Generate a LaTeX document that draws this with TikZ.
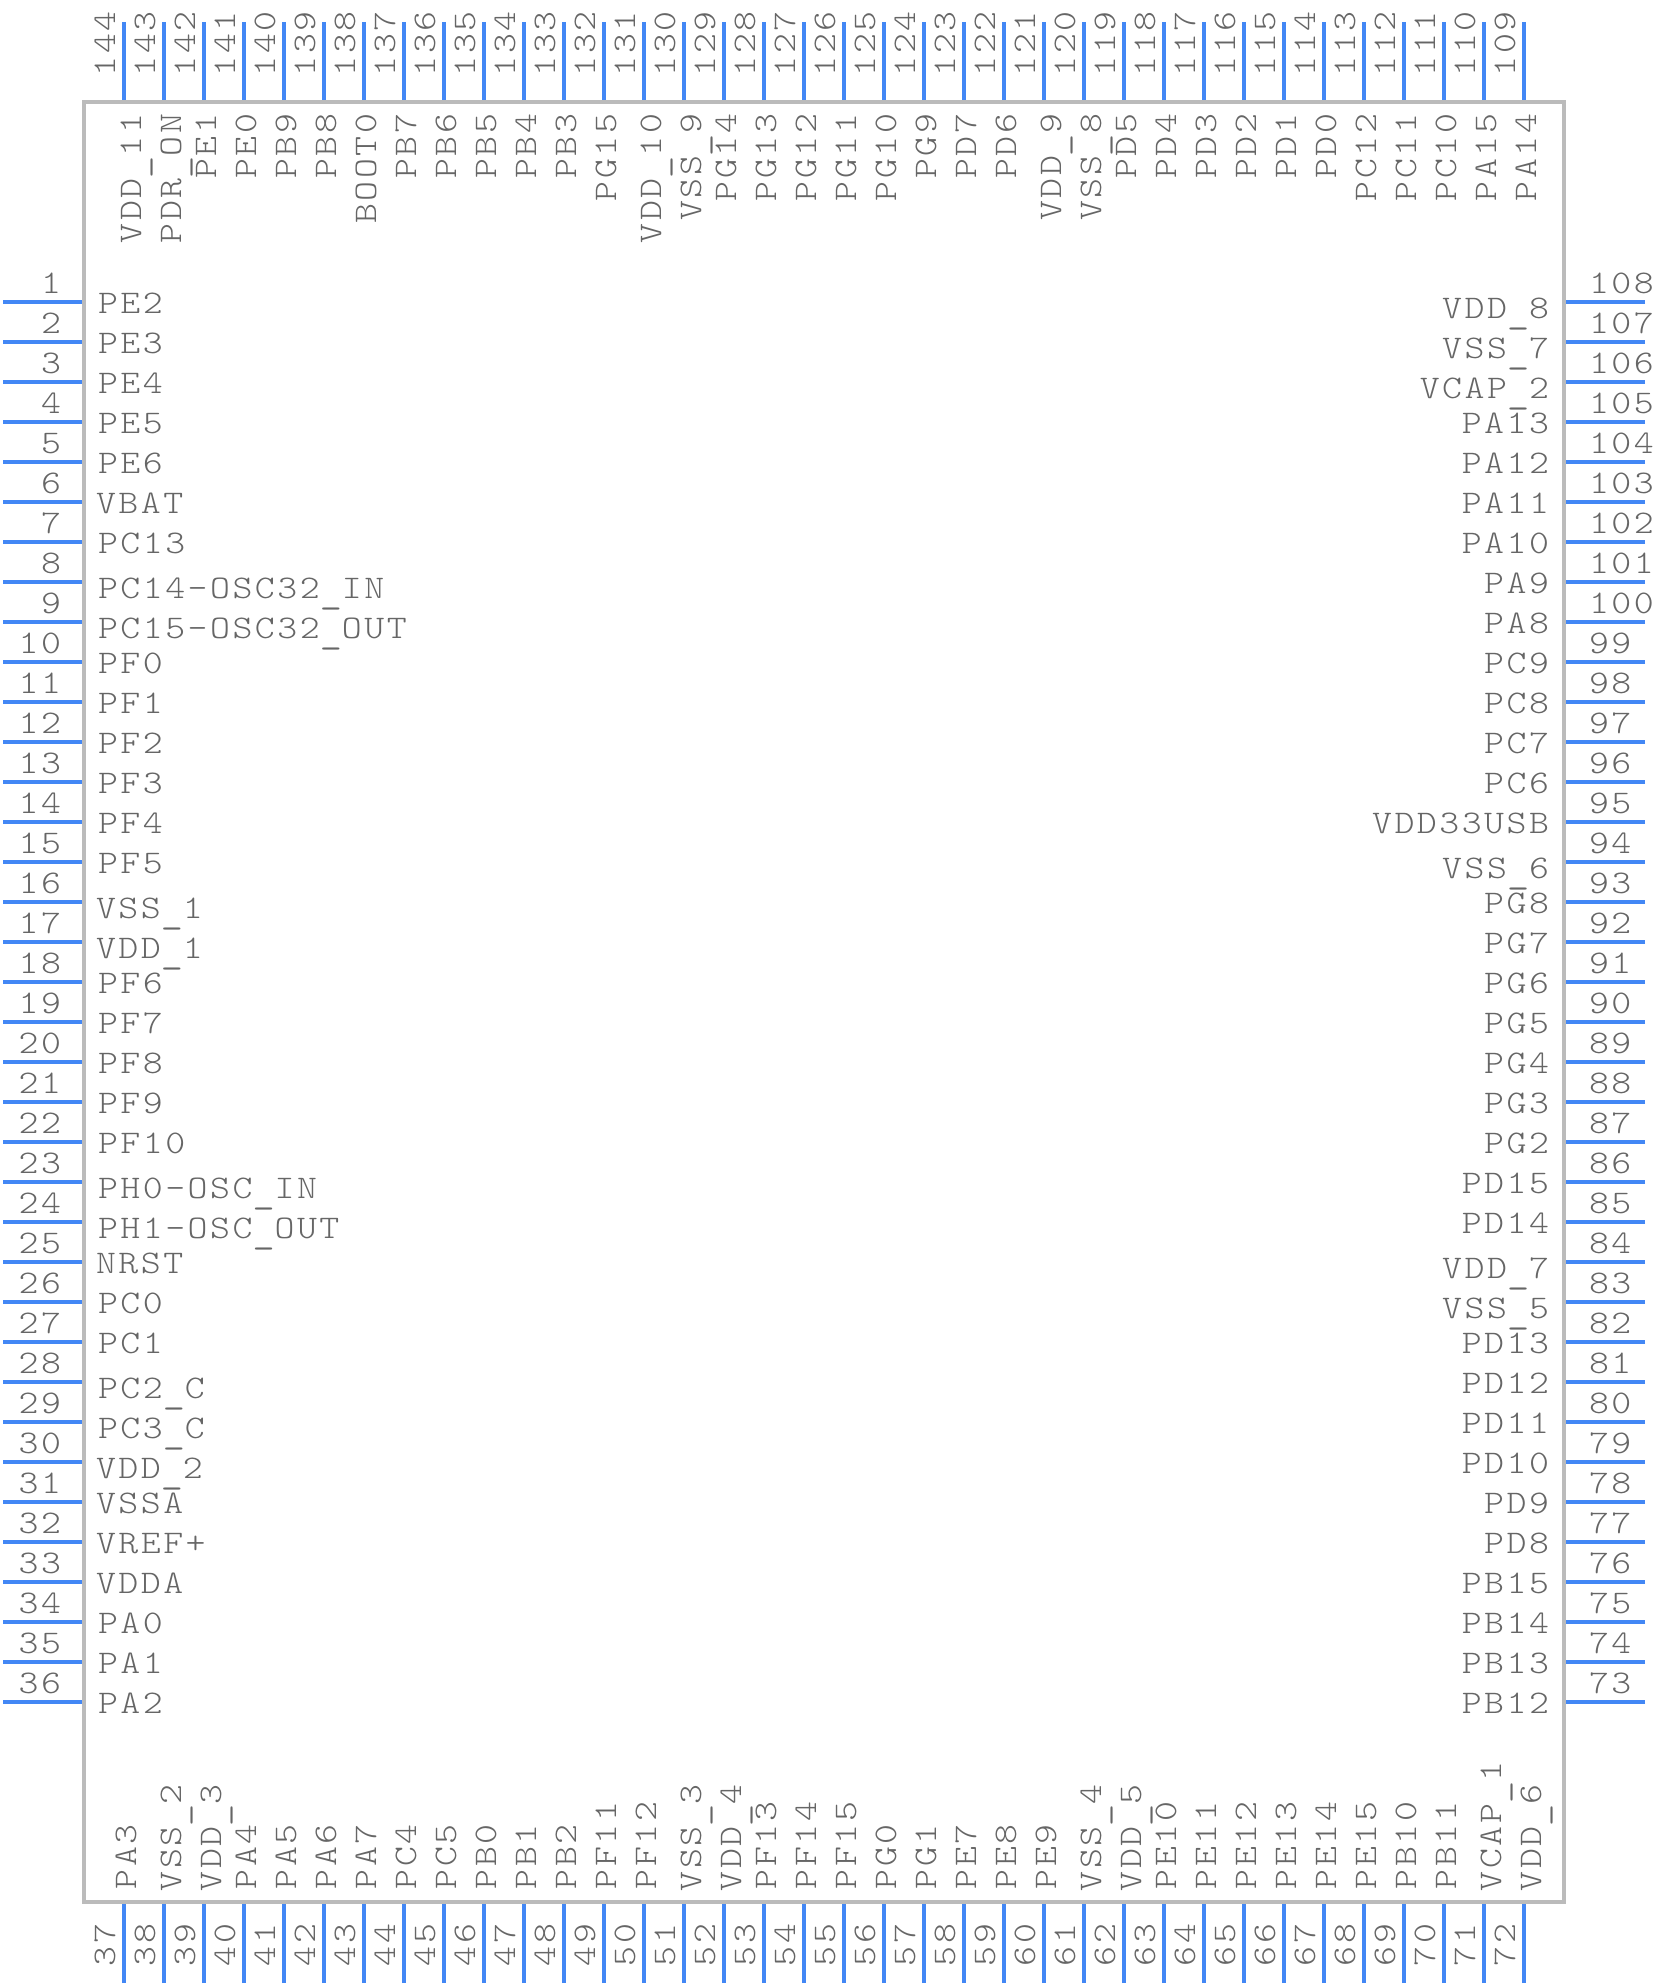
\documentclass[tikz,border=0pt]{standalone}
\usepackage{fontspec}
\newfontfamily\chipfont[LetterSpace=7.6,FakeStretch=1.15]{Latin Modern Mono Light}
\newfontfamily\uscfont[FakeStretch=1.3]{Latin Modern Mono}
\newcommand\usc{\raisebox{-5pt}{\uscfont\_}}
\def\gettok#1#2\relax{#1}
\newcommand\setinset{\def\inset{0}%
  \if V\expandafter\gettok\lab\relax\def\inset{2}\fi
  \if N\expandafter\gettok\lab\relax\def\inset{2}\fi}
\definecolor{pinblue}{HTML}{4287F5}
\definecolor{boxgray}{HTML}{BBBBBB}
\definecolor{textgray}{HTML}{666666}
\tikzset{
  pinline/.style={draw=pinblue,line width=4pt},
  chipbox/.style={draw=boxgray,line width=4pt,fill=white},
  lbl/.style={inner sep=0pt,outer sep=0pt,text=textgray,font=\chipfont\fontsize{33}{33}\selectfont},
}
\begin{document}
\begin{tikzpicture}[x=1pt,y=-1pt]
\useasboundingbox (0,0) rectangle (1666,1986);
\coordinate (boxTL) at (84,102);
\coordinate (boxBR) at (1564,1902);
\draw[chipbox] (boxTL) rectangle (boxBR);
% left side
\foreach \lab/\sh [count=\i] in {PE2/0,PE3/0,PE4/0,PE5/0,PE6/0,VBAT/0,PC13/0,PC14-OSC32\usc IN/5,PC15-OSC32\usc OUT/5,PF0/0,PF1/0,PF2/0,PF3/0,PF4/0,PF5/0,VSS\usc 1/5,VDD\usc 1/5,PF6/0,PF7/0,PF8/0,PF9/0,PF10/0,PH0-OSC\usc IN/5,PH1-OSC\usc OUT/5,NRST/0,PC0/0,PC1/0,PC2\usc C/5,PC3\usc C/5,VDD\usc 2/5,VSSA/0,VREF+/0,VDDA/0,PA0/0,PA1/0,PA2/0}{
  \pgfmathsetmacro{\py}{262+40*\i}
  \setinset
  \coordinate (pa\i) at (3,\py);
  \coordinate (pb\i) at (82,\py);
  \draw[pinline] (pa\i) -- (pb\i);
  \node[lbl,anchor=base east] (num\i) at (61,\py-9) {\i};
  \node[lbl,anchor=base west] (name\i) at (98-\inset,\py+11+\sh) {\lab};
}
% bottom side
\foreach \lab/\sh [count=\j] in {PA3/0,VSS\usc 2/5,VDD\usc 3/5,PA4/0,PA5/0,PA6/0,PA7/0,PC4/0,PC5/0,PB0/0,PB1/0,PB2/0,PF11/0,PF12/0,VSS\usc 3/5,VDD\usc 4/5,PF13/0,PF14/0,PF15/0,PG0/0,PG1/0,PE7/0,PE8/0,PE9/0,VSS\usc 4/5,VDD\usc 5/5,PE10/0,PE11/0,PE12/0,PE13/0,PE14/0,PE15/0,PB10/0,PB11/0,VCAP\usc 1/5,VDD\usc 6/5}{
  \pgfmathtruncatemacro{\i}{36+\j}
  \pgfmathsetmacro{\px}{84+40*\j}
  \setinset
  \coordinate (pa\i) at (\px,1983);
  \coordinate (pb\i) at (\px,1904);
  \draw[pinline] (pa\i) -- (pb\i);
  \node[lbl,rotate=90,anchor=base west] (num\i) at (\px-9,1966) {\i};
  \node[lbl,rotate=90,anchor=base west] (name\i) at (\px+12+\sh,1889+\inset) {\lab};
}
% right side
\foreach \lab/\sh [count=\j] in {PB12/0,PB13/0,PB14/0,PB15/0,PD8/0,PD9/0,PD10/0,PD11/0,PD12/0,PD13/0,VSS\usc 5/5,VDD\usc 7/5,PD14/0,PD15/0,PG2/0,PG3/0,PG4/0,PG5/0,PG6/0,PG7/0,PG8/0,VSS\usc 6/5,VDD33USB/0,PC6/0,PC7/0,PC8/0,PC9/0,PA8/0,PA9/0,PA10/0,PA11/0,PA12/0,PA13/0,VCAP\usc 2/5,VSS\usc 7/5,VDD\usc 8/5}{
  \pgfmathtruncatemacro{\i}{72+\j}
  \pgfmathsetmacro{\py}{1742-40*\j}
  \coordinate (pa\i) at (1645,\py);
  \coordinate (pb\i) at (1566,\py);
  \draw[pinline] (pa\i) -- (pb\i);
  \node[lbl,anchor=base west] (num\i) at (1589,\py-9) {\i};
  \node[lbl,anchor=base east] (name\i) at (1549,\py+11+\sh) {\lab};
}
% top side
\foreach \lab/\sh [count=\j] in {PA14/0,PA15/0,PC10/0,PC11/0,PC12/0,PD0/0,PD1/0,PD2/0,PD3/0,PD4/0,PD5/0,VSS\usc 8/5,VDD\usc 9/5,PD6/0,PD7/0,PG9/0,PG10/0,PG11/0,PG12/0,PG13/0,PG14/0,VSS\usc 9/5,VDD\usc 10/5,PG15/0,PB3/0,PB4/0,PB5/0,PB6/0,PB7/0,BOOT0/0,PB8/0,PB9/0,PE0/0,PE1/0,PDR\usc ON/5,VDD\usc 11/5}{
  \pgfmathtruncatemacro{\i}{108+\j}
  \pgfmathsetmacro{\px}{1564-40*\j}
  \coordinate (pa\i) at (\px,22);
  \coordinate (pb\i) at (\px,100);
  \draw[pinline] (pa\i) -- (pb\i);
  \node[lbl,rotate=90,anchor=base west] (num\i) at (\px-9,76) {\i};
  \node[lbl,rotate=90,anchor=base east] (name\i) at (\px+12+\sh,114) {\lab};
}
\end{tikzpicture}
\end{document}
